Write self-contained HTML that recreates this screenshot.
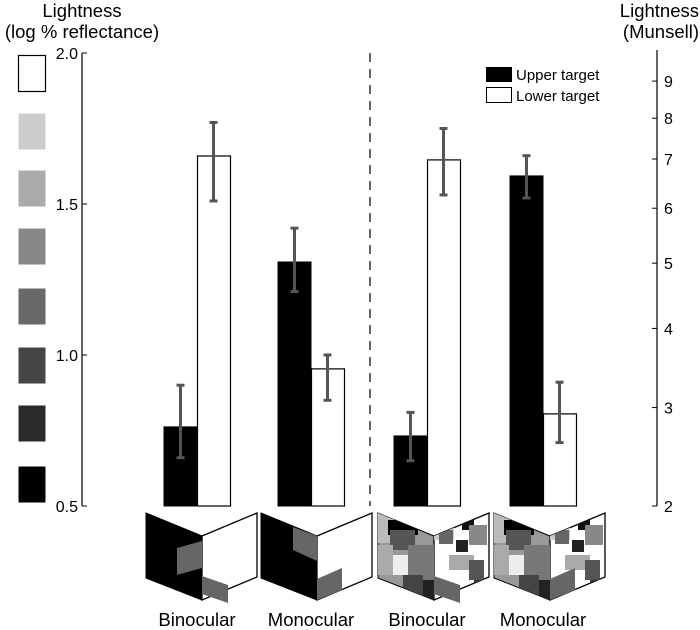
<!DOCTYPE html>
<html><head><meta charset="utf-8"><style>
html,body{margin:0;padding:0;background:#fff;}
svg{display:block;font-family:"Liberation Sans",Arial,sans-serif;}
</style></head><body>
<svg id="chart" width="700" height="630" viewBox="0 0 700 630">
<g id="static">
<text x="82" y="17" font-size="18.5" text-anchor="middle">Lightness</text>
<text x="82" y="38" font-size="18.5" text-anchor="middle">(log % reflectance)</text>
<text x="699" y="17" font-size="18.5" text-anchor="end">Lightness</text>
<text x="699" y="38" font-size="18.5" text-anchor="end">(Munsell)</text>
<line x1="370" y1="53" x2="370" y2="506" stroke="#000" stroke-width="1.2" stroke-dasharray="9,7"/>
<g>
<rect x="486" y="67" width="26" height="15" fill="#000"/>
<text x="516" y="80" font-size="15">Upper target</text>
<rect x="486.5" y="87.5" width="25" height="15" fill="#fff" stroke="#000"/>
<text x="516" y="101" font-size="15">Lower target</text>
</g>
</g>
<g id="axes"></g>
<g id="bars"></g>
<g id="thumbs"></g>
</svg>
<script>
const categories = ["Binocular","Monocular","Binocular","Monocular"];
const upperValues = [0.762, 1.308, 0.732, 1.593];
const lowerValues = [1.659, 0.954, 1.646, 0.805];
const upperErrLow = [0.66, 1.21, 0.65, 1.52];
const upperErrHigh = [0.90, 1.42, 0.81, 1.66];
const lowerErrLow = [1.51, 0.85, 1.53, 0.71];
const lowerErrHigh = [1.77, 1.00, 1.75, 0.91];
const leftTicks = [0.5, 1.0, 1.5, 2.0];
const leftTickLabels = ["0.5","1.0","1.5","2.0"];
const munsellTicks = [2,3,4,5,6,7,8,9];
const munsellLogPos = [0.5, 0.826, 1.088, 1.304, 1.486, 1.649, 1.784, 1.907];
const swatchGrays = ["#ffffff","#cccccc","#aaaaaa","#888888","#686868","#454545","#2a2a2a","#000000"];

const NS="http://www.w3.org/2000/svg";
function y(v){return 506-(v-0.5)*302;}
const groupX=[164,278,394,510];
const bw=33;
function mk(tag,attrs,parent){const e=document.createElementNS(NS,tag);for(const k in attrs)e.setAttribute(k,attrs[k]);parent.appendChild(e);return e;}
const axes=document.getElementById('axes');
const bars=document.getElementById('bars');
const thumbs=document.getElementById('thumbs');

let l=mk('line',{x1:82,y1:y(2.0),x2:82,y2:506,stroke:'#000','stroke-width':1.2},axes);


leftTicks.forEach((t,i)=>{
 let tk=mk('line',{x1:82,y1:y(t),x2:87,y2:y(t),stroke:'#000'},axes);
 
 
 let tx=mk('text',{x:78,y:y(t)+6,'font-size':16,'text-anchor':'end'},axes);
 tx.textContent=leftTickLabels[i];
 
 
});
let r=mk('line',{x1:657,y1:50,x2:657,y2:506,stroke:'#000','stroke-width':1.2},axes);


munsellTicks.forEach((t,i)=>{
 const yy=y(munsellLogPos[i]);
 let tk=mk('line',{x1:652,y1:yy,x2:657,y2:yy,stroke:'#000'},axes);
 
 
 let tx=mk('text',{x:664,y:yy+6,'font-size':16},axes);
 tx.textContent=String(t);
 
 
});
const swTop=[55,113,170,228,288,347,405,466];
swatchGrays.forEach((g,i)=>{
 let s=mk('rect',{x:18.5,y:swTop[i]+0.5,width:27,height:36,fill:g,stroke:i==0?'#000':'none','stroke-width':1.2},axes);
 
 
});

categories.forEach((c,i)=>{
 const x0=groupX[i];
 let b1=mk('rect',{x:x0,y:y(upperValues[i]),width:bw,height:506-y(upperValues[i]),fill:'#000',stroke:'#000'},bars);
 
 
 let b2=mk('rect',{x:x0+bw+0.5,y:y(lowerValues[i]),width:bw,height:506-y(lowerValues[i]),fill:'#fff',stroke:'#000','stroke-width':1.2},bars);
 
 
 [[x0+bw/2,upperErrLow[i],upperErrHigh[i]],[x0+bw*1.5,lowerErrLow[i],lowerErrHigh[i]]].forEach(([cx,lo,hi])=>{
  let g=mk('g',{stroke:'#555','stroke-width':3},bars);
  
  
  mk('line',{x1:cx,y1:y(lo),x2:cx,y2:y(hi)},g);
  mk('line',{x1:cx-4,y1:y(lo),x2:cx+4,y2:y(lo)},g);
  mk('line',{x1:cx-4,y1:y(hi),x2:cx+4,y2:y(hi)},g);
 });
 let lbl=mk('text',{x:x0+bw,y:626,'font-size':18.5,'text-anchor':'middle'},bars);
 lbl.textContent=c;
 
 
});

const thumbLeft=[146,261,378,494];
thumbLeft.forEach((L,i)=>{
 const F=L+56, R=F+55;
 let g=mk('g',{},thumbs);
 
 
 const mottled=i>=2;
 mk('polygon',{points:`${L},513 ${F},536 ${F},600 ${L},578`,fill:mottled?'#999':'#000',stroke:'#000'},g);
 mk('polygon',{points:`${F},536 ${R},513 ${R},577 ${F},600`,fill:'#fff',stroke:'#000','stroke-width':1.3},g);
 if(mottled){
  const cid='clipL'+i, cid2='clipR'+i;
  const d=mk('defs',{},g);
  const c1=mk('clipPath',{id:cid},d); mk('polygon',{points:`${L},513 ${F},536 ${F},600 ${L},578`},c1);
  const c2=mk('clipPath',{id:cid2},d); mk('polygon',{points:`${F},536 ${R},513 ${R},577 ${F},600`},c2);
  const gl=mk('g',{'clip-path':`url(#${cid})`},g);
  [[L,513,20,30,'#bbb'],[L+10,520,30,15,'#000'],[L+12,530,25,20,'#555'],[L,545,15,30,'#aaa'],[L+15,555,20,20,'#eee'],[L+30,545,26,35,'#777'],[L+25,575,20,25,'#444'],[L+45,580,11,20,'#222']].forEach(a=>mk('rect',{x:a[0],y:a[1],width:a[2],height:a[3],fill:a[4]},gl));
  const gr=mk('g',{'clip-path':`url(#${cid2})`},g);
  [[F,520,20,20,'#ccc'],[F+5,530,14,14,'#666'],[F+28,520,12,10,'#111'],[F+35,525,18,20,'#888'],[F+22,540,12,12,'#222'],[F+15,555,25,15,'#aaa'],[F+35,560,15,20,'#555'],[F+40,580,15,15,'#333']].forEach(a=>mk('rect',{x:a[0],y:a[1],width:a[2],height:a[3],fill:a[4]},gr));
 }
 if(i%2==0){
  if(i==0) mk('polygon',{points:`${L+31},548 ${F},541 ${F},568 ${L+31},575`,fill:'#666'},g);
  mk('polygon',{points:`${F},576 ${F+26},585 ${F+26},603 ${F},594`,fill:'#666'},g);
 } else {
  if(i==1) mk('polygon',{points:`${L+32},527 ${F},536 ${F},561 ${L+32},550`,fill:'#666'},g);
  mk('polygon',{points:`${F},579 ${F+25},568 ${F+25},590 ${F},600`,fill:'#666'},g);
 }
});
</script>
</body></html>
